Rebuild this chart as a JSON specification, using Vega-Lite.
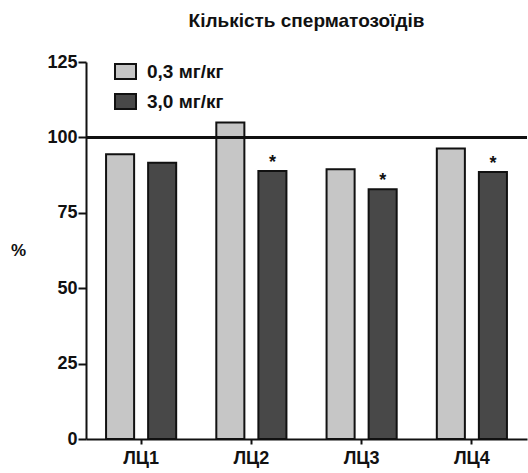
{
  "$schema": "https://vega.github.io/schema/vega-lite/v6.json",
  "width": 441,
  "height": 377,
  "autosize": {"type": "none"},
  "padding": {"left": 86, "top": 62, "right": 1, "bottom": 34},
  "background": "white",
  "config": {
    "view": {"stroke": null},
    "font": "Liberation Sans"
  },
  "title": {
    "text": "Кількість сперматозоїдів",
    "fontSize": 19,
    "fontWeight": "bold",
    "font": "Liberation Sans",
    "color": "#111",
    "anchor": "middle",
    "baseline": "bottom",
    "offset": 3
  },
  "data": {
    "values": [
      {"group": "ЛЦ1", "dose": "0,3 мг/кг", "value": 94.4, "sig": ""},
      {"group": "ЛЦ1", "dose": "3,0 мг/кг", "value": 91.6, "sig": ""},
      {"group": "ЛЦ2", "dose": "0,3 мг/кг", "value": 104.9, "sig": ""},
      {"group": "ЛЦ2", "dose": "3,0 мг/кг", "value": 88.9, "sig": "*"},
      {"group": "ЛЦ3", "dose": "0,3 мг/кг", "value": 89.4, "sig": ""},
      {"group": "ЛЦ3", "dose": "3,0 мг/кг", "value": 82.8, "sig": "*"},
      {"group": "ЛЦ4", "dose": "0,3 мг/кг", "value": 96.3, "sig": ""},
      {"group": "ЛЦ4", "dose": "3,0 мг/кг", "value": 88.5, "sig": "*"}
    ]
  },
  "layer": [
    {
      "mark": {"type": "bar", "stroke": "#111", "strokeWidth": 2},
      "encoding": {
        "x": {
          "field": "group",
          "type": "nominal",
          "scale": {"paddingInner": 0.364, "paddingOuter": 0.182},
          "axis": {
            "title": null,
            "labelAngle": 0,
            "labelFont": "Liberation Sans",
            "labelFontSize": 18,
            "labelFontWeight": "bold",
            "labelColor": "#111",
            "labelPadding": 5,
            "tickSize": 5,
            "tickWidth": 2,
            "tickColor": "#111",
            "domainWidth": 2,
            "domainColor": "#111"
          }
        },
        "y": {
          "field": "value",
          "type": "quantitative",
          "scale": {"domain": [0, 125], "nice": false},
          "axis": {
            "title": "%",
            "titleAngle": 0,
            "titleX": -68,
            "titleY": 188,
            "titleAlign": "center",
            "titleBaseline": "middle",
            "titleFont": "Liberation Sans",
            "titleFontSize": 17,
            "titleFontWeight": "bold",
            "titleColor": "#111",
            "values": [0, 12.5, 25, 37.5, 50, 62.5, 75, 87.5, 100, 112.5, 125],
            "labelExpr": "datum.value % 25 === 0 ? datum.label : ''",
            "tickSize": {"condition": {"test": "datum.value % 25 !== 0", "value": 3}, "value": 8},
            "tickWidth": 2,
            "tickColor": "#111",
            "labelFont": "Liberation Sans",
            "labelFontSize": 18,
            "labelFontWeight": "bold",
            "labelColor": "#111",
            "labelPadding": 1,
            "grid": false,
            "domainWidth": 2,
            "domainColor": "#111"
          }
        },
        "xOffset": {
          "field": "dose",
          "type": "nominal",
          "scale": {"paddingInner": 0.333, "paddingOuter": 0}
        },
        "color": {
          "field": "dose",
          "type": "nominal",
          "scale": {"domain": ["0,3 мг/кг", "3,0 мг/кг"], "range": ["#c6c6c6", "#484848"]},
          "legend": {
            "title": null,
            "orient": "none",
            "legendX": 28,
            "legendY": -2,
            "symbolType": "M-1,-0.72H1V0.72H-1Z",
            "symbolSize": 441,
            "symbolStrokeColor": "#111",
            "symbolStrokeWidth": 2,
            "symbolOpacity": 1,
            "labelFont": "Liberation Sans",
            "labelFontSize": 19,
            "labelFontWeight": "bold",
            "labelColor": "#111",
            "labelOffset": 10,
            "rowPadding": 5
          }
        }
      }
    },
    {
      "mark": {"type": "text", "fontSize": 18, "fontWeight": "bold", "font": "Liberation Sans", "baseline": "middle", "dy": -8, "color": "#111"},
      "encoding": {
        "x": {"field": "group", "type": "nominal"},
        "y": {"field": "value", "type": "quantitative"},
        "xOffset": {
          "field": "dose",
          "type": "nominal",
          "scale": {"paddingInner": 0.333, "paddingOuter": 0}
        },
        "text": {"field": "sig"}
      }
    },
    {
      "mark": {"type": "rule", "strokeWidth": 2, "color": "#111"},
      "encoding": {"y": {"datum": 100, "type": "quantitative"}}
    }
  ]
}
